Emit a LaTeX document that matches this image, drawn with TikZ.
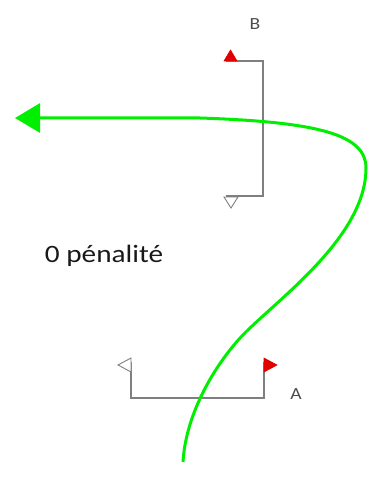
\documentclass[tikz,border=0pt]{standalone}
\usepackage{fontspec}
\setmainfont{Carlito}
\usepackage{xcolor}
\usetikzlibrary{arrows.meta}

\definecolor{gategray}{HTML}{7F7F7F}
\definecolor{flagred}{HTML}{E00000}
\definecolor{pathgreen}{HTML}{00EE00}

\tikzset{
  gate/.style={draw=gategray, line width=1.2pt},
  redflag/.style={fill=flagred, draw=flagred, line width=0.6pt},
  whiteflag/.style={fill=white, draw=gategray, line width=0.9pt},
  gatelabel/.style={inner sep=0pt, font=\fontsize{17}{19}\selectfont, text=black!70}
}

\begin{document}
\begin{tikzpicture}[x=1pt, y=-1pt]
      \useasboundingbox (0,0) rectangle (370,489);
      % gate B
      \draw [gate] (226,61) -- (263,61) -- (263,196) -- (226,196);
      \draw [redflag] (224,61) -- (237,61) -- (230.5,50) -- cycle;
      \draw [whiteflag] (224,197) -- (238,197) -- (231,208) -- cycle;
      \node [gatelabel] (B) at (255,24) {\scalebox{1.15}[1]{B}};
      % gate A
      \draw [gate] (131,362) -- (131,398) -- (264,398) -- (264,362);
      \draw [whiteflag] (131,358) -- (131,372) -- (118,365) -- cycle;
      \draw [redflag] (264,358) -- (264,372) -- (277,365) -- cycle;
      \node [gatelabel] (A) at (296,394.5) {\scalebox{1.15}[1]{A}};
      % trajectory
      \coordinate (start) at (183,462);
      \coordinate (mid) at (250,328);
      \coordinate (turn) at (366,168);
      \coordinate (finish) at (15,118);
      \draw [pathgreen, line width=3pt, -{Triangle[length=25pt, width=29pt]}] (start) .. controls (186,408) and (222,354) .. (mid) .. controls (290,290) and (366,232) .. (turn) .. controls (366,135) and (320,122) .. (200,118) -- (finish);
      \node [inner sep=0pt, font=\fontsize{25}{28}\selectfont, text=black!90] (P) at (104,256) {\scalebox{1.17}[1]{0 pénalité}};
\end{tikzpicture}
\end{document}
